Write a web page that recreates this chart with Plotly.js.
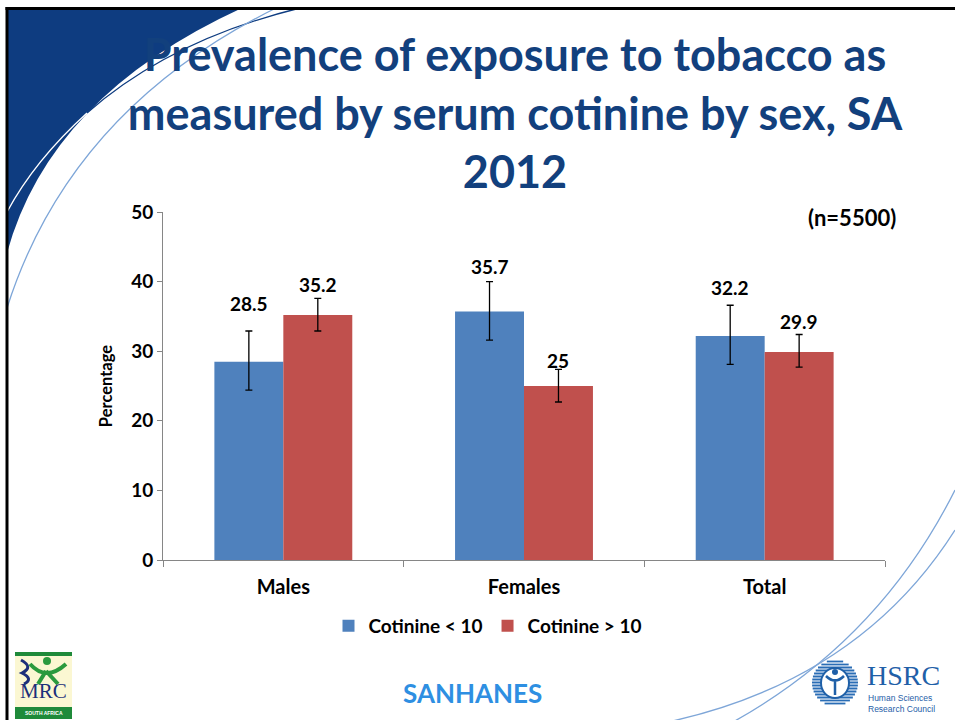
<!DOCTYPE html>
<html>
<head>
<meta charset="utf-8">
<script src="https://cdn.plot.ly/plotly-3.0.1.min.js"></script>
<style>html,body{margin:0;padding:0;background:#fff;}#chart{width:955px;height:720px;}</style>
</head>
<body>
<div id="chart"></div>
<script>
// ---- data ----
const categories = ["Males", "Females", "Total"];
const seriesNames = ["Cotinine < 10", "Cotinine > 10"];
const lowValues  = [28.5, 35.7, 32.2];   // Cotinine < 10
const lowCiLow   = [24.4, 31.6, 28.1];
const lowCiHigh  = [32.9, 40.0, 36.6];
const highValues = [35.2, 25.0, 29.9];   // Cotinine > 10
const highCiLow  = [32.9, 22.7, 27.7];
const highCiHigh = [37.6, 27.4, 32.4];
const yTicks = [0, 10, 20, 30, 40, 50];

// ---- styling ----
const FONT = "Lato, 'Open Sans', sans-serif";
const BLUE = "#4f81bd", RED = "#c0504d";
const NAVY = "#0e3c80", LIGHT = "#7ea6d8";
const labelLiftLow = [28, 15, 18];   // pixel lift of value labels above error caps
const labelLiftHigh = [14, 9, 13];

const M = {l:163, r:70, t:212, b:160};
const PW = 955 - M.l - M.r, PH = 720 - M.t - M.b;
const px = x => ((x - M.l) / PW).toFixed(5);
const py = y => ((720 - M.b - y) / PH).toFixed(5);
const P = (x, y) => px(x) + "," + py(y);

const traces = [
  {type:"bar", name:seriesNames[0], x:categories, y:lowValues,
   marker:{color:BLUE},
   error_y:{type:"data", symmetric:false,
     array:lowValues.map((v,i)=>+(lowCiHigh[i]-v).toFixed(2)),
     arrayminus:lowValues.map((v,i)=>+(v-lowCiLow[i]).toFixed(2)),
     color:"#000", thickness:1.3, width:3.5},
   hoverinfo:"none"},
  {type:"bar", name:seriesNames[1], x:categories, y:highValues,
   marker:{color:RED},
   error_y:{type:"data", symmetric:false,
     array:highValues.map((v,i)=>+(highCiHigh[i]-v).toFixed(2)),
     arrayminus:highValues.map((v,i)=>+(v-highCiLow[i]).toFixed(2)),
     color:"#000", thickness:1.3, width:3.5},
   hoverinfo:"none"}
];

const annotations = [];
const groupHalf = (PW / categories.length) * (1 - 0.427) / 4;
categories.forEach((c, i) => {
  annotations.push({x:c, y:lowCiHigh[i], xref:"x", yref:"y", xshift:-groupHalf,
    yshift:labelLiftLow[i], xanchor:"center", yanchor:"middle", showarrow:false, text:String(lowValues[i]),
    font:{family:FONT, size:19, color:"#000", weight:700}});
  annotations.push({x:c, y:highCiHigh[i], xref:"x", yref:"y", xshift:groupHalf,
    yshift:labelLiftHigh[i], xanchor:"center", yanchor:"middle", showarrow:false, text:String(highValues[i]),
    font:{family:FONT, size:19, color:"#000", weight:700}});
});
const note = (x, y, text, font, xanchor, align) => annotations.push({xref:"paper", yref:"paper",
  x:px(x), y:py(y), xanchor:xanchor || "center", yanchor:"middle", align:align || "center",
  showarrow:false, text:text, font:font, borderpad:0});
note(852, 218, "(n=5500)", {family:FONT, size:22, color:"#000", weight:700});
note(472, 693, "SANHANES", {family:FONT, size:26, color:"#2e8fe2", weight:700});
// logo texts
note(43.5, 691, "MRC", {family:"Liberation Serif, serif", size:21, color:"#1c2f7a"});
note(43.5, 713, "SOUTH AFRICA", {family:"Liberation Sans, sans-serif", size:5, color:"#fff", weight:700});
note(866, 676, "HSRC", {family:"Liberation Serif, serif", size:28, color:"#1f60a8"}, "left");
note(867, 703, "Human Sciences<br>Research Council", {family:"Liberation Sans, sans-serif", size:8.5, color:"#1f60a8"}, "left", "left");

const shapes = [];
const path = (d, opts) => shapes.push(Object.assign({type:"path", xref:"paper", yref:"paper", layer:"below", path:d}, opts));
// top-left swoosh
path(`M ${P(300,8)} Q ${P(170,40)} ${P(87,113)}`, {line:{color:NAVY, width:1.3}});
path(`M ${P(7,8)} L ${P(242,8)} Q ${P(50,96)} ${P(7,253)} Z`, {fillcolor:NAVY, line:{width:0}});
path(`M ${P(87,113)} Q ${P(35,160)} ${P(7,212)}`, {line:{color:"#ffffff", width:1.3}});
path(`M ${P(276,8)} Q ${P(70,110)} ${P(7,308)}`, {line:{color:LIGHT, width:1.3}});
// bottom-right arcs
path(`M ${P(955,490)} Q ${P(880,640)} ${P(733,722)}`, {line:{color:LIGHT, width:1.3}});
path(`M ${P(955,530)} Q ${P(860,680)} ${P(668,722)}`, {line:{color:LIGHT, width:1.3}});
// frame
shapes.push({type:"line", xref:"paper", yref:"paper", layer:"above", x0:px(5.5), y0:py(8.5), x1:px(956), y1:py(8.5), line:{color:"#000", width:3}});
shapes.push({type:"line", xref:"paper", yref:"paper", layer:"above", x0:px(7), y0:py(7), x1:px(7), y1:py(721), line:{color:"#000", width:3}});
// MRC logo
shapes.push({type:"rect", xref:"paper", yref:"paper", layer:"below", x0:px(15), x1:px(72), y0:py(656), y1:py(707), fillcolor:"#fbf7d2", line:{width:0}});
shapes.push({type:"rect", xref:"paper", yref:"paper", layer:"below", x0:px(15), x1:px(72), y0:py(652), y1:py(656), fillcolor:"#1f8a3a", line:{width:0}});
shapes.push({type:"rect", xref:"paper", yref:"paper", layer:"below", x0:px(15), x1:px(72), y0:py(707), y1:py(719), fillcolor:"#1f8a3a", line:{width:0}});
path(`M ${P(21,660)} Q ${P(34,667)} ${P(22,673)} Q ${P(34,679)} ${P(24,684)}`, {line:{color:"#1c2f7a", width:3}});
path(`M ${P(30,664)} Q ${P(46,682)} ${P(66,664)}`, {line:{color:"#2b9a3e", width:4}});
path(`M ${P(46,671)} L ${P(38,684)} M ${P(46,671)} L ${P(58,684)}`, {line:{color:"#2b9a3e", width:4}});
shapes.push({type:"circle", xref:"paper", yref:"paper", layer:"below", x0:px(43), x1:px(51), y0:py(657), y1:py(665), fillcolor:"#2b9a3e", line:{width:0}});
// HSRC logo: striped disc
const cx = 835, cy = 683, R = 23;
for (let dy = -R + 1.5; dy < R; dy += 3) {
  const half = Math.sqrt(R*R - dy*dy);
  shapes.push({type:"line", xref:"paper", yref:"paper", layer:"below",
    x0:px(cx-half), x1:px(cx+half), y0:py(cy+dy), y1:py(cy+dy), line:{color:"#2a6db5", width:1.8}});
}
shapes.push({type:"circle", xref:"paper", yref:"paper", layer:"below", x0:px(cx-14), x1:px(cx+14), y0:py(cy-15), y1:py(cy+15), fillcolor:"#ffffff", line:{color:"#1f60a8", width:2}});
path(`M ${P(cx-9,cy-7)} Q ${P(cx,cy+2)} ${P(cx+9,cy-7)} M ${P(cx,cy-4)} L ${P(cx,cy+12)}`, {line:{color:"#1f60a8", width:2.5}});
shapes.push({type:"circle", xref:"paper", yref:"paper", layer:"below", x0:px(cx-3), x1:px(cx+3), y0:py(cy-14), y1:py(cy-8), fillcolor:"#1f60a8", line:{width:0}});

const layout = {
  width:955, height:720,
  margin:M,
  paper_bgcolor:"#ffffff", plot_bgcolor:"rgba(0,0,0,0)",
  font:{family:FONT, color:"#000"},
  title:{text:"Prevalence of exposure to tobacco as<br>measured by serum cotinine by sex, SA<br>2012",
    font:{family:FONT, size:45, color:"#12407d", weight:700},
    xref:"container", yref:"container", x:515/955, xanchor:"center", y:1-71/720, yanchor:"middle"},
  barmode:"group", bargap:0.427, bargroupgap:0,
  xaxis:{type:"category", showline:true, linecolor:"#868686", linewidth:1,
    ticks:"outside", tickson:"boundaries", ticklen:6, tickcolor:"#868686", ticklabelstandoff:9,
    tickfont:{family:FONT, size:20, color:"#000", weight:700}, showgrid:false, zeroline:false, fixedrange:true},
  yaxis:{range:[0,50], tickvals:yTicks, showline:true, linecolor:"#868686", linewidth:1,
    ticks:"outside", ticklen:5, tickcolor:"#868686", showgrid:false, zeroline:false,
    tickfont:{family:FONT, size:19, color:"#000", weight:700},
    title:{text:"Percentage", font:{family:FONT, size:16.5, color:"#000", weight:700}, standoff:14}},
  showlegend:true,
  legend:{orientation:"h", x:px(488), xanchor:"center", y:py(626), yanchor:"middle",
    font:{family:FONT, size:19, color:"#000", weight:700}, traceorder:"normal", itemwidth:30},
  annotations:annotations,
  shapes:shapes
};

Plotly.newPlot("chart", traces, layout, {displayModeBar:false, staticPlot:true});
</script>
</body>
</html>
